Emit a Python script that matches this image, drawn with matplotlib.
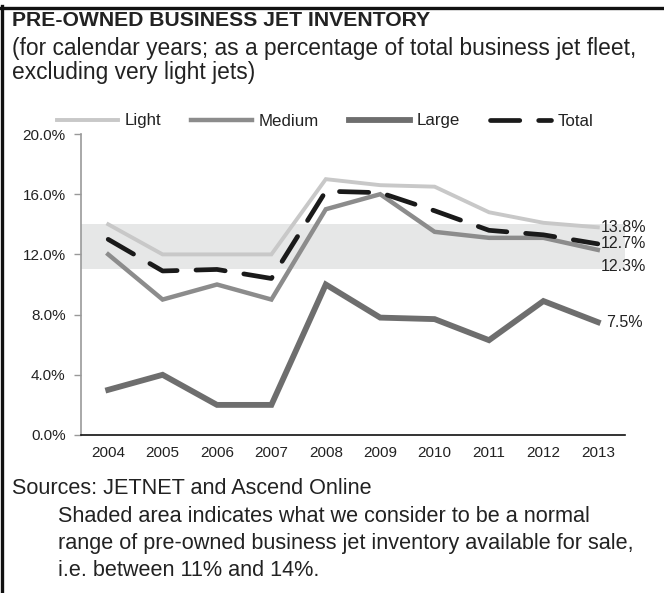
import matplotlib.pyplot as plt
from matplotlib.lines import Line2D
from matplotlib.ticker import FuncFormatter

plt.rcParams['font.family'] = ['Liberation Sans', 'DejaVu Sans']

years = ['2004', '2005', '2006', '2007', '2008', '2009', '2010', '2011', '2012', '2013']
light = [14.0, 12.0, 12.0, 12.0, 17.0, 16.6, 16.5, 14.8, 14.1, 13.8]
medium = [12.0, 9.0, 10.0, 9.0, 15.0, 16.0, 13.5, 13.1, 13.1, 12.3]
large = [3.0, 4.0, 2.0, 2.0, 10.0, 7.8, 7.7, 6.3, 8.9, 7.5]
total = [13.0, 10.9, 11.0, 10.4, 16.2, 16.1, 14.9, 13.6, 13.3, 12.7]
normal_low, normal_high = 11.0, 14.0

W, H = 664, 593
fig = plt.figure(figsize=(W / 100, H / 100), dpi=100)
ax = fig.add_axes([81 / W, 1 - 435 / H, 544 / W, 301 / H])

x = range(len(years))
ax.axhspan(normal_low, normal_high, color='#e6e7e7', zorder=0, lw=0)
l1, = ax.plot(x, light, color='#c8c8c8', lw=2.8, label='Light', zorder=2, solid_joinstyle='miter')
l2, = ax.plot(x, medium, color='#8c8c8c', lw=3.2, label='Medium', zorder=3, solid_joinstyle='miter')
l3, = ax.plot(x, large, color='#6e6e6e', lw=4.2, label='Large', zorder=4, solid_joinstyle='miter')
l4, = ax.plot(x, total, color='#1a1a1a', lw=3.4, label='Total', zorder=5,
              dashes=(6.2, 4), dash_capstyle='round')

ax.set_xlim(-0.5, 9.5)
ax.set_ylim(0, 20)
ax.set_yticks([0, 4, 8, 12, 16, 20])
ax.yaxis.set_major_formatter(FuncFormatter(lambda v, p: f'{v:.1f}%'))
ax.set_xticks(list(x))
ax.set_xticklabels(years)
ax.tick_params(axis='x', length=0, labelsize=11, colors='#222222', pad=8)
ax.tick_params(axis='y', length=5, width=1, color='#999999', labelsize=11,
               labelcolor='#222222', pad=6)
for s in ['top', 'right']:
    ax.spines[s].set_visible(False)
ax.spines['left'].set_color('#999999')
ax.spines['left'].set_linewidth(1.2)
ax.spines['bottom'].set_color('#111111')
ax.spines['bottom'].set_linewidth(1.2)

# end-of-line values, nudged apart where they crowd
ends = [(light[-1], 0), (total[-1], 0), (medium[-1], -12), (large[-1], 0)]
for i, (v, dy) in enumerate(ends):
    dx = 6 if i == 3 else 2
    ax.annotate(f'{v:.1f}%', xy=(9, v), xytext=(dx, dy), textcoords='offset points',
                ha='left', va='center', fontsize=11.5, color='#222222')

fig.legend(handles=[l1, l2, l3, l4], loc='center left', bbox_to_anchor=(57 / W, 1 - 121 / H),
           ncol=4, frameon=False, fontsize=12.2, handlelength=3.6, handletextpad=0.4,
           columnspacing=1.75, borderpad=0, borderaxespad=0, labelcolor='#222222')

fig.text(12 / W, 1 - 21 / H, 'PRE-OWNED BUSINESS JET INVENTORY', fontsize=15.2,
         fontweight='bold', color='#222222', va='center')
fig.text(12 / W, 1 - 48 / H, '(for calendar years; as a percentage of total business jet fleet,',
         fontsize=16.4, color='#222222', va='center')
fig.text(12 / W, 1 - 73 / H, 'excluding very light jets)', fontsize=16.4, color='#222222', va='center')

fig.text(12 / W, 1 - 488 / H, 'Sources: JETNET and Ascend Online', fontsize=15.6,
         color='#222222', va='center')
notes = ['Shaded area indicates what we consider to be a normal',
         'range of pre-owned business jet inventory available for sale,',
         'i.e. between 11% and 14%.']
for k, line in enumerate(notes):
    fig.text(58 / W, 1 - (516 + 27 * k) / H, line, fontsize=15.6, color='#222222', va='center')

# frame along the top and left edges
fig.add_artist(Line2D([0, 663 / W], [1 - 7.5 / H, 1 - 7.5 / H], color='#111111', lw=2.4,
                      transform=fig.transFigure))
fig.add_artist(Line2D([1.5 / W, 1.5 / W], [0, 1 - 6 / H], color='#111111', lw=2.4,
                      transform=fig.transFigure))

fig.savefig('out.png', dpi=100, facecolor='white')
